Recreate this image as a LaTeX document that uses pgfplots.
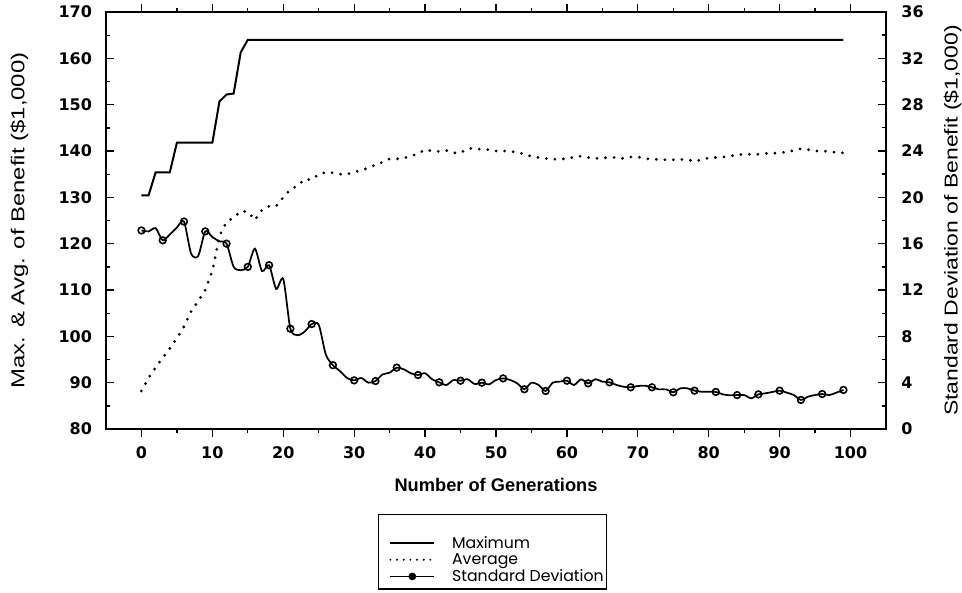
\documentclass[border=0pt]{standalone}
\usepackage{fontspec}
\setmainfont{Liberation Sans}
\newfontfamily\tickfont{DejaVu Sans}
\newfontfamily\legfont{Poppins}
\usepackage{graphicx}
\usepackage{pgfplots}
\usepackage{pgfplotstable}
\pgfplotsset{compat=1.18}

\pgfplotstableread{
g v
0 130.4
1 130.4
2 135.4
4 135.4
5 141.8
10 141.8
11 150.7
12 152.2
13 152.4
14 161.3
15 164.0
99 164.0
}\maxdata

\pgfplotstableread{
g v
0 88.2
1 91.0
2 93.3
3 95.4
4 97.4
5 99.6
6 102.1
7 105.4
8 107.6
9 110.0
10 114.1
11 121.7
12 124.7
13 125.6
14 127.0
15 126.9
16 125.1
17 127.3
18 128.1
19 128.1
20 130.0
21 131.7
22 132.5
23 133.9
24 133.8
25 135.0
26 135.4
27 135.3
28 135.0
29 135.0
30 135.5
31 135.8
32 136.4
33 137.0
34 137.6
35 138.3
36 138.3
37 138.5
38 138.9
39 139.4
40 140.3
41 140.0
42 139.9
43 140.1
44 139.6
45 139.6
46 140.5
47 140.6
48 140.3
49 140.3
50 140.0
51 140.0
52 140.0
53 139.6
54 139.4
55 138.8
56 138.6
57 138.4
58 138.2
59 138.3
60 138.3
61 138.7
62 138.9
63 138.6
64 138.4
65 138.5
66 138.6
67 138.6
68 138.4
69 138.7
70 138.7
71 138.4
72 138.2
73 138.2
74 138.1
75 138.1
76 138.2
77 138.1
78 137.8
79 138.1
80 138.5
81 138.6
82 138.7
83 138.9
84 139.2
85 139.3
86 139.3
87 139.3
88 139.5
89 139.5
90 139.6
91 139.8
92 140.1
93 140.5
94 140.3
95 140.0
96 140.0
97 139.9
98 139.7
99 139.6
}\avgdata

\pgfplotstableread{
g v
0 17.14
1 17.06
2 17.34
3 16.29
4 16.8
5 17.4
6 17.91
7 15.14
8 14.94
9 17.06
10 16.57
11 16.2
12 16.0
13 14.0
14 13.71
15 14.0
16 15.57
17 13.63
18 14.14
19 12.09
20 12.94
21 8.66
22 8.1
23 8.4
24 9.06
25 9.0
26 6.43
27 5.51
28 5.0
29 4.4
30 4.2
31 4.4
32 4.0
33 4.14
34 4.71
35 4.86
36 5.3
37 5.15
38 4.81
39 4.66
40 4.81
41 4.29
42 4.03
43 3.8
44 4.23
45 4.17
46 4.29
47 3.88
48 4.0
49 3.85
50 4.23
51 4.37
52 4.23
53 3.94
54 3.43
55 4.0
56 3.8
57 3.28
58 4.0
59 4.09
60 4.17
61 3.8
62 4.29
63 3.94
64 4.29
65 4.09
66 4.03
67 3.8
68 3.65
69 3.6
70 3.71
71 3.74
72 3.6
73 3.42
74 3.42
75 3.17
76 3.51
77 3.51
78 3.31
79 3.22
80 3.22
81 3.2
82 2.99
83 2.91
84 2.93
85 2.93
86 2.65
87 2.99
88 3.08
89 3.2
90 3.31
91 3.14
92 2.93
93 2.51
94 2.79
95 2.93
96 3.02
97 2.93
98 3.14
99 3.37
}\sddata

\pgfplotsset{
  base/.style={
    scale only axis, width=585pt, height=312.75pt,
    xmin=-5, xmax=105,
    at={(0,0)}, anchor=south west,
    /pgf/number format/assume math mode=true,
    ticklabel style={font=\tickfont\bfseries\fontsize{12}{14}\selectfont},
    axis line style={line width=1.1pt},
    major tick length=6pt, minor tick length=3pt,
    every tick/.style={black, line width=1pt},
  }
}

\begin{document}
\begin{tikzpicture}
\path[use as bounding box] (-79.5pt,-122.25pt) rectangle (642pt,321.75pt);
\begin{axis}[base, ymin=80, ymax=170,
  xtick={0,10,...,100}, minor x tick num=1, ytick=\empty,
  tick align=outside,
  xticklabel style={yshift=-4pt},
  xlabel={\bfseries Number of Generations},
  xlabel style={font=\fontsize{13.7}{16}\selectfont, at={([yshift=-42pt]axis description cs:0.5,0)}, anchor=center}]
\addplot[black, line width=1.5pt] table[x=g,y=v]{\maxdata};
\addplot[black, line width=2.3pt, line cap=round, dash pattern=on 0pt off 6.4pt] table[x=g,y=v]{\avgdata};
\end{axis}
\begin{axis}[base, ymin=80, ymax=170, hide x axis, axis y line*=left,
  ytick={80,90,...,170}, minor y tick num=1, tick align=inside,
  yticklabel style={xshift=-7pt},
  ylabel={\scalebox{1.28}[1]{Max. \& Avg. of Benefit (\$1,000)}},
  ylabel style={font=\fontsize{14}{16}\selectfont, at={([xshift=-65pt]axis description cs:0,0.5)}, anchor=center}]
\end{axis}
\begin{axis}[base, ymin=0, ymax=36, hide x axis, axis y line*=right,
  ytick={0,4,...,36}, minor y tick num=1, tick align=inside,
  yticklabel style={xshift=8pt},
  ylabel={\scalebox{1.23}[1]{Standard Deviation of Benefit (\$1,000)}},
  ylabel style={font=\fontsize{14}{16}\selectfont, at={([xshift=50pt]axis description cs:1,0.5)}, anchor=center},
  legend image code/.code={\path (0pt,0pt); \draw[#1] (8pt,0pt) -- (41pt,0pt);},
  legend style={at={(0.4955,-0.204)}, anchor=north, draw=black, line width=0.9pt,
    font=\legfont\fontsize{11.8}{13}\selectfont, inner xsep=0pt, inner ysep=3pt, row sep=0pt, column sep=10.5pt,
    nodes={inner ysep=1.2pt}},
  legend cell align=left]
\addlegendimage{empty legend}
\addlegendentry{\rule{0pt}{8pt}}
\addlegendimage{black, line width=1pt}
\addlegendentry{Maximum}
\addlegendimage{black, line width=1.6pt, line cap=round, dash pattern=on 0pt off 5pt}
\addlegendentry{Average}
\addplot[black, line width=1.3pt, smooth, tension=0.45, mark=o, mark repeat=3, mark phase=1, mark size=2.5pt,
  mark options={solid, fill=white, line width=1.2pt},
  legend image code/.code={\path (0pt,0pt); \draw[black, line width=1pt] (8pt,0pt) -- (41pt,0pt); \fill[black] (24.5pt,0pt) circle (2.2pt);}]
  table[x=g,y=v]{\sddata};
\addlegendentry{Standard Deviation}
\end{axis}
\end{tikzpicture}
\end{document}
